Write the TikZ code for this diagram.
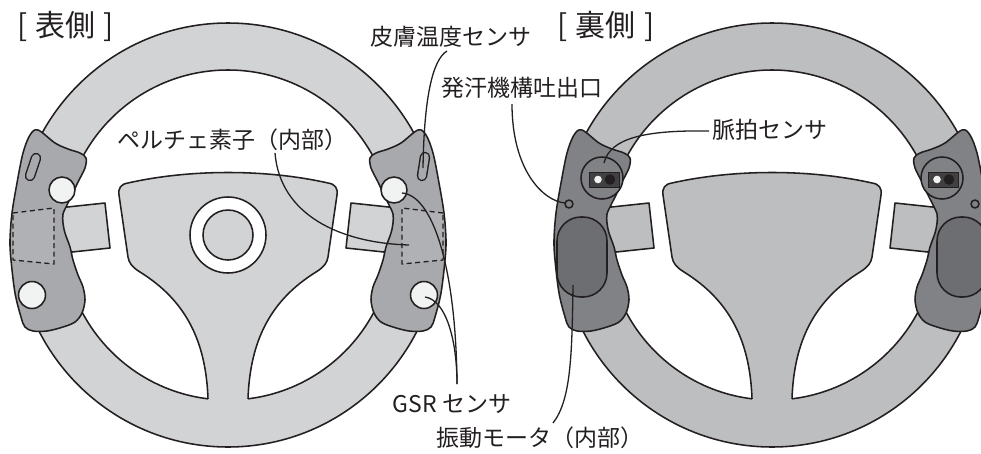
\documentclass[tikz,border=0pt]{standalone}
\usepackage{fontspec}
\newfontfamily\jpfont{Noto Sans CJK JP}
\definecolor{ink}{HTML}{231F20}
\definecolor{rimF}{HTML}{D1D3D4}
\definecolor{gripF}{HTML}{A7A9AC}
\definecolor{peltF}{HTML}{AFB1B4}
\definecolor{padF}{HTML}{F1F2F2}
\definecolor{rimB}{HTML}{BCBEC0}
\definecolor{gripB}{HTML}{808285}
\definecolor{motorB}{HTML}{6D6E71}
\definecolor{sensB}{HTML}{414042}

% outline of one grip (left hand side), relative to the wheel centre, y pointing down
\newcommand\gripshape{plot[smooth cycle, tension=0.55] coordinates {
  (-190,-105) (-173,-92) (-160,-86) (-148,-82) (-142,-77) (-143,-67) (-150,-53)
  (-156,-40) (-161,-30) (-165,-21) (-165,-12) (-163,-2) (-158,12) (-155,25)
  (-150,40) (-145,52) (-143,65) (-146,78) (-153,87) (-165,92) (-181,96)
  (-195,96) (-203,92) (-207,82) (-213,58) (-217,25) (-218,5) (-216,-22)
  (-211,-52) (-205,-82) (-198,-100)}}
% open outline of the centre pad with its lower spoke
\newcommand\hubshape{(-20,164) .. controls (-22,105) and (-43,65) .. (-88,37)
  .. controls (-96,32) and (-99,28) .. (-100,22) -- (-109,-40)
  .. controls (-110,-47) and (-107,-51) .. (-100,-52)
  .. controls (-38,-66) and (38,-66) .. (100,-52)
  .. controls (107,-51) and (110,-47) .. (109,-40) -- (100,22)
  .. controls (99,28) and (96,32) .. (88,37)
  .. controls (43,65) and (22,105) .. (20,164)}

\begin{document}
\begin{tikzpicture}[x=1pt,y=-1pt,line join=round,
  outline/.style={draw=ink,line width=1.55pt},
  lead/.style={draw=ink,line width=1.3pt},
  lbl/.style={font=\jpfont\fontsize{23}{27}\selectfont,text=ink,inner sep=0pt},
  ttl/.style={font=\jpfont\fontsize{30}{34}\selectfont,text=ink,inner sep=0pt},
  rimpart/.pic={
    \fill[#1,even odd rule] (0,0) circle[radius=212] (0,0) circle[radius=165];
    \draw[outline] (0,0) circle[radius=212];
    \draw[outline] (0,0) circle[radius=165];
    \draw[outline,fill=#1] (-170,-27) -- (-123,-32) -- (-118,13) -- (-170,18.5) -- cycle;
    \draw[outline,fill=#1] (170,-27) -- (123,-32) -- (118,13) -- (170,18.5) -- cycle;
    \fill[#1] \hubshape -- (20,185) -- (-20,185) -- cycle;
    \draw[outline] \hubshape;
  }]
\useasboundingbox (0,0) rectangle (981,453);
\clip (0,0) rectangle (981,453);

% ---------- front view ----------
\begin{scope}[shift={(228,235)}]
  \pic {rimpart=rimF};
  \draw[outline,fill=white] (0,0) circle[radius=38];
  \draw[outline,fill=rimF] (0,0) circle[radius=25];
  \foreach \s in {1,-1}{
    \begin{scope}[xscale=\s]
      \draw[outline,fill=gripF] \gripshape;
      \draw[line width=1.3pt,dash pattern=on 5pt off 3.5pt,draw=ink,fill=peltF]
        (-215,-22) -- (-174,-27) -- (-174,29) -- (-215,25) -- cycle;
      \draw[outline,fill=padF] (-166,-45) circle[radius=13];
      \draw[outline,fill=padF] (-196,60) circle[radius=13.5];
    \end{scope}
  }
  % finger slots
  \draw[line width=10.5pt,line cap=round,ink] (-192,-77) -- (-198,-59);
  \draw[line width=7.6pt,line cap=round,gripF] (-192,-77) -- (-198,-59);
  \draw[line width=10.5pt,line cap=round,ink] (197,-78) -- (194,-59);
  \draw[line width=7.6pt,line cap=round,gripF] (197,-78) -- (194,-59);
\end{scope}

% ---------- back view ----------
\begin{scope}[shift={(772,235)}]
  \pic {rimpart=rimB};
  \foreach \s in {1,-1}{
    \begin{scope}[xscale=\s]
      \draw[outline,fill=gripB] \gripshape;
      \draw[outline,fill=gripB] (-170,-57) circle[radius=21];
      \draw[outline,fill=gripB] (-203,-31) circle[radius=4];
      \draw[outline,fill=motorB,rounded corners=24] (-215,-18) rectangle (-165,62);
    \end{scope}
  }
  \foreach \c in {-168,171}{
    \draw[line width=0.9pt,draw=ink,fill=sensB] (\c-15,-63) rectangle (\c+15,-48);
    \fill[padF] (\c-6,-55.5) circle[radius=3.8];
    \fill[ink] (\c+6,-55.5) circle[radius=5.3];
  }
\end{scope}

% ---------- labels ----------
\node[ttl] (front) at (66,26) {[\hspace{8pt}表側\hspace{8pt}]};
\node[ttl] (back) at (606,26) {[\hspace{8pt}裏側\hspace{8pt}]};
\node[lbl] (skin) at (451,37) {皮膚温度センサ};
\node[lbl] (sweat) at (522,88) {発汗機構吐出口};
\node[lbl] (pulse) at (770,130) {脈拍センサ};
\node[lbl] (pelt) at (232,140) {ペルチェ素子（内部）};
\node[lbl] (gsr) at (452,404) {GSR センサ};
\node[lbl] (motor) at (540,438) {振動モータ（内部）};

% ---------- leader lines ----------
\coordinate (skinA) at (447,51);   \coordinate (skinB) at (423,168);
\coordinate (sweatA) at (512,104); \coordinate (sweatB) at (565,203);
\coordinate (pulseA) at (709,131); \coordinate (pulseB) at (604,163);
\coordinate (peltA) at (275,153);  \coordinate (peltB) at (409,245);
\coordinate (gsrA) at (457,384);   \coordinate (gsrT) at (402,193);
\coordinate (gsrB) at (425,297);
\coordinate (motA) at (573,285);   \coordinate (motB) at (553,423);

\draw[lead] (skinA) .. controls (432,60) and (424,100) .. (skinB);
\draw[lead] (sweatA) .. controls (512,170) and (543,201) .. (sweatB);
\draw[lead] (pulseA) .. controls (645,130) and (610,138) .. (pulseB);
\draw[lead] (peltA) .. controls (280,215) and (340,243) .. (peltB);
\draw[lead] (gsrT) .. controls (432,195) and (456,265) .. (gsrA);
\draw[lead] (gsrB) .. controls (446,300) and (457,340) .. (gsrA);
\draw[lead] (motA) .. controls (572,355) and (571,400) .. (motB);
\end{tikzpicture}
\end{document}
